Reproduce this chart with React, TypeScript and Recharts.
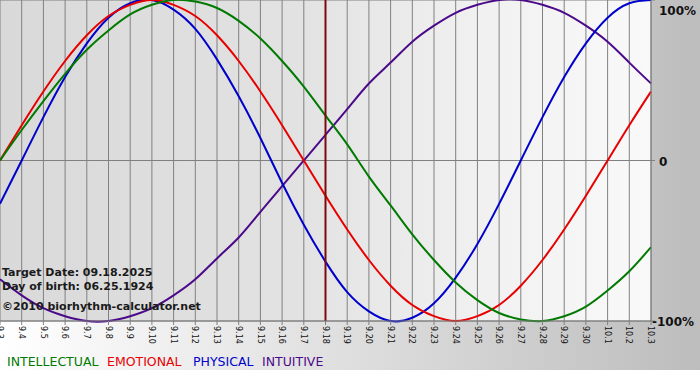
import React from "react";
import {
  LineChart,
  Line,
  XAxis,
  YAxis,
  CartesianGrid,
  ReferenceLine,
} from "recharts";

const days = [
  "9.3", "9.4", "9.5", "9.6", "9.7", "9.8", "9.9", "9.10", "9.11", "9.12",
  "9.13", "9.14", "9.15", "9.16", "9.17", "9.18", "9.19", "9.20", "9.21", "9.22",
  "9.23", "9.24", "9.25", "9.26", "9.27", "9.28", "9.29", "9.30", "10.1", "10.2",
  "10.3",
];

const intellectual = [
  0, 19, 37, 54, 69, 81, 91, 97, 100, 99, 95, 87, 76, 62, 46, 28, 10, -10, -28,
  -46, -62, -76, -87, -95, -99, -100, -97, -91, -81, -69, -54,
];
const emotional = [
  0, 22, 43, 62, 78, 90, 97, 100, 97, 90, 78, 62, 43, 22, 0, -22, -43, -62, -78,
  -90, -97, -100, -97, -90, -78, -62, -43, -22, 0, 22, 43,
];
const physical = [
  -27, 0, 27, 52, 73, 89, 98, 100, 94, 82, 63, 40, 14, -14, -40, -63, -82, -94,
  -100, -98, -89, -73, -52, -27, 0, 27, 52, 73, 89, 98, 100,
];
const intuitive = [
  -74, -84, -92, -97, -100, -100, -97, -92, -84, -74, -61, -48, -32, -16, 0, 16,
  32, 48, 61, 74, 84, 92, 97, 100, 100, 97, 92, 84, 74, 61, 48,
];

const percentTicks = [-100, 0, 100];
const targetDay = "9.18";

const font = "'DejaVu Sans', Verdana, sans-serif";

const series = [
  { key: "intuitive", name: "INTUITIVE", color: "#4b0a8a", legendX: 262 },
  { key: "physical", name: "PHYSICAL", color: "#0000cc", legendX: 193 },
  { key: "emotional", name: "EMOTIONAL", color: "#e80000", legendX: 107 },
  { key: "intellectual", name: "INTELLECTUAL", color: "#007a00", legendX: 7 },
];

const data = days.map((day, i) => ({
  day,
  intellectual: intellectual[i],
  emotional: emotional[i],
  physical: physical[i],
  intuitive: intuitive[i],
}));

const DayTick = (props: any) => {
  const { x, y, payload } = props;
  return (
    <text
      transform={`translate(${x},${y}) rotate(90)`}
      dy="0.35em"
      textAnchor="start"
      fontSize={8}
      fontFamily={font}
      fill="#111"
    >
      {payload.value}
    </text>
  );
};

const PctTick = (props: any) => {
  const { x, y, payload } = props;
  const v = payload.value;
  const label = v === 0 ? "0" : `${v}%`;
  const dy = v === 100 ? 6 : 5;
  return (
    <text
      x={x + (v < 0 ? -7 : 0)}
      y={y + dy}
      textAnchor="start"
      fontSize={12}
      fontWeight="bold"
      fontFamily={font}
      fill="#111"
    >
      {label}
    </text>
  );
};

const App = () => {
  return (
    <div
      style={{
        position: "absolute",
        left: 0,
        top: 0,
        width: 700,
        height: 380,
        background:
          "linear-gradient(to right, #ffffff, #bdbdbd) 0 0 / 700px 370px no-repeat, #ffffff",
      }}
    >
      <LineChart
        width={700}
        height={380}
        data={data}
        margin={{ top: 0, right: 0, bottom: 0, left: 0 }}
      >
        <defs>
          <linearGradient id="plotBg" x1="0" y1="0" x2="1" y2="0">
            <stop offset="0%" stopColor="#d9d9d9" />
            <stop offset="45%" stopColor="#e2e2e2" />
            <stop offset="75%" stopColor="#f1f1f1" />
            <stop offset="100%" stopColor="#f9f9f9" />
          </linearGradient>
        </defs>
        <CartesianGrid
          stroke="#808080"
          fill="url(#plotBg)"
          fillOpacity={1}
        />
        <XAxis
          dataKey="day"
          interval={0}
          height={59}
          tickSize={4}
          tickMargin={1}
          stroke="#808080"
          tick={<DayTick />}
        />
        <YAxis
          orientation="right"
          domain={[-100, 100]}
          ticks={percentTicks}
          width={49}
          tickSize={4}
          tickMargin={4}
          stroke="#808080"
          tick={<PctTick />}
        />
        {series.map((s) => (
          <Line
            key={s.key}
            dataKey={s.key}
            type="natural"
            stroke={s.color}
            strokeWidth={2}
            dot={false}
            activeDot={false}
            isAnimationActive={false}
          />
        ))}
        <ReferenceLine x={targetDay} stroke="#7a0c0c" strokeWidth={2} />
      </LineChart>
      <svg
        width={700}
        height={380}
        style={{ position: "absolute", left: 0, top: 0, pointerEvents: "none" }}
      >
        <g fontFamily={font} fontSize={11} fontWeight="bold" fill="#1a1a1a">
          <text x={2} y={276}>Target Date: 09.18.2025</text>
          <text x={2} y={290}>Day of birth: 06.25.1924</text>
          <text x={2} y={310}>©2010 biorhythm-calculator.net</text>
        </g>
        <g fontFamily={font} fontSize={12.5}>
          {series.map((s) => (
            <text key={s.key} x={s.legendX} y={366} fill={s.color}>
              {s.name}
            </text>
          ))}
        </g>
      </svg>
    </div>
  );
};

export default App;
